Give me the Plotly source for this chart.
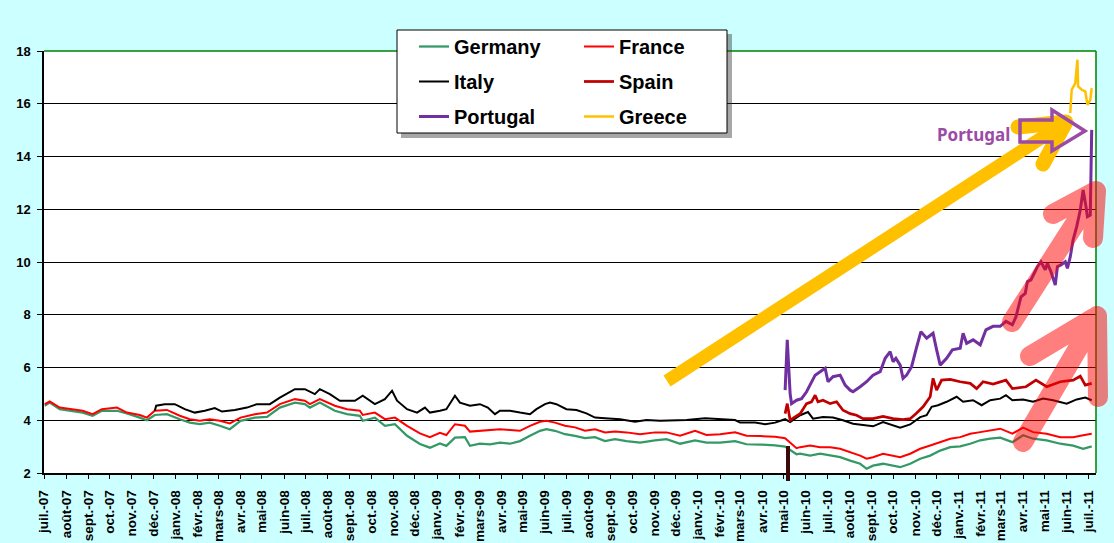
import pandas as pd
import plotly.graph_objects as go

# 10-year government bond yields (%)
core_dates = [
    "2007-07-02", "2007-07-09", "2007-07-23", "2007-08-06", "2007-08-24", "2007-09-07", "2007-09-20",
    "2007-10-11", "2007-10-25", "2007-11-12", "2007-11-22", "2007-12-03", "2007-12-20",
    "2008-01-07", "2008-01-21", "2008-02-04", "2008-02-18", "2008-03-03", "2008-03-17", "2008-04-01",
    "2008-04-21", "2008-05-08", "2008-05-26", "2008-06-16", "2008-06-30", "2008-07-07", "2008-07-21",
    "2008-08-11", "2008-08-28", "2008-09-15", "2008-09-19", "2008-10-06", "2008-10-20", "2008-11-03",
    "2008-11-20", "2008-12-08", "2008-12-22",
    "2009-01-05", "2009-01-14", "2009-01-26", "2009-02-09", "2009-02-16", "2009-03-02", "2009-03-16",
    "2009-03-30", "2009-04-13", "2009-04-27", "2009-05-11", "2009-05-25", "2009-06-03", "2009-06-15",
    "2009-06-29", "2009-07-13", "2009-07-27", "2009-08-10", "2009-08-24", "2009-09-07", "2009-09-23",
    "2009-10-12", "2009-11-02", "2009-11-18", "2009-12-07", "2009-12-28",
    "2010-01-13", "2010-02-01", "2010-02-22", "2010-03-10", "2010-03-29", "2010-04-19", "2010-05-03",
    "2010-05-10", "2010-05-19", "2010-05-24", "2010-06-07", "2010-06-21", "2010-07-05", "2010-07-19",
    "2010-08-02", "2010-08-16", "2010-08-25", "2010-09-03", "2010-09-17", "2010-10-01", "2010-10-11",
    "2010-10-25", "2010-11-08", "2010-11-22", "2010-12-06", "2010-12-20",
    "2011-01-03", "2011-01-17", "2011-01-31", "2011-02-14", "2011-02-28", "2011-03-17", "2011-04-01",
    "2011-04-15", "2011-05-04", "2011-05-23", "2011-06-10", "2011-06-24", "2011-07-06",
]
germany = [
    4.55, 4.67, 4.42, 4.36, 4.29, 4.17, 4.36, 4.36, 4.26, 4.10, 4.00, 4.20, 4.23,
    4.04, 3.91, 3.85, 3.91, 3.79, 3.66, 3.98, 4.10, 4.13, 4.48, 4.67, 4.61, 4.48, 4.67,
    4.36, 4.23, 4.17, 3.98, 4.10, 3.79, 3.85, 3.41, 3.10, 2.96,
    3.12, 3.03, 3.34, 3.36, 3.03, 3.11, 3.09, 3.15, 3.11, 3.21, 3.41, 3.60, 3.66, 3.60,
    3.47, 3.41, 3.32, 3.36, 3.21, 3.28, 3.21, 3.15, 3.24, 3.28, 3.11, 3.24,
    3.15, 3.15, 3.21, 3.09, 3.08, 3.05, 3.00, 2.86, 2.71, 2.73, 2.66, 2.73, 2.66, 2.60,
    2.47, 2.35, 2.16, 2.28, 2.35, 2.28, 2.22, 2.35, 2.54, 2.66, 2.85, 2.98,
    3.01, 3.11, 3.24, 3.30, 3.34, 3.17, 3.43, 3.30, 3.24, 3.11, 3.04, 2.92, 3.01,
]
france = [
    4.61, 4.71, 4.48, 4.42, 4.36, 4.23, 4.42, 4.48, 4.29, 4.20, 4.10, 4.36, 4.39,
    4.17, 4.04, 3.98, 4.04, 3.98, 3.88, 4.10, 4.23, 4.29, 4.61, 4.80, 4.74, 4.61, 4.80,
    4.55, 4.42, 4.36, 4.20, 4.29, 4.04, 4.10, 3.79, 3.50, 3.36,
    3.52, 3.44, 3.85, 3.79, 3.57, 3.60, 3.63, 3.66, 3.63, 3.60, 3.79, 3.94, 3.98, 3.91,
    3.79, 3.73, 3.60, 3.66, 3.54, 3.57, 3.54, 3.47, 3.54, 3.54, 3.41, 3.60,
    3.44, 3.47, 3.54, 3.41, 3.40, 3.37, 3.32, 3.15, 2.94, 2.98, 3.04, 2.98, 2.98, 2.92,
    2.79, 2.66, 2.54, 2.60, 2.73, 2.66, 2.60, 2.73, 2.92, 3.04, 3.17, 3.30,
    3.36, 3.49, 3.55, 3.62, 3.68, 3.49, 3.72, 3.55, 3.49, 3.36, 3.36, 3.43, 3.49,
]

italy_dates = [
    "2007-12-03", "2007-12-05", "2007-12-17", "2007-12-31", "2008-01-14", "2008-01-28", "2008-02-11",
    "2008-02-25", "2008-03-06", "2008-03-24", "2008-04-10", "2008-04-24", "2008-05-12", "2008-05-26",
    "2008-06-16", "2008-06-30", "2008-07-14", "2008-07-21", "2008-08-04", "2008-08-18", "2008-09-08",
    "2008-09-19", "2008-10-06", "2008-10-20", "2008-10-30", "2008-11-06", "2008-11-20", "2008-12-04",
    "2008-12-15", "2008-12-22", "2009-01-05", "2009-01-14", "2009-01-26", "2009-02-02", "2009-02-16",
    "2009-03-02", "2009-03-13", "2009-03-23", "2009-03-30", "2009-04-13", "2009-04-27", "2009-05-11",
    "2009-05-20", "2009-06-01", "2009-06-08", "2009-06-17", "2009-07-01", "2009-07-15", "2009-07-29",
    "2009-08-10", "2009-08-24", "2009-09-14", "2009-10-05", "2009-10-21", "2009-11-09", "2009-11-30",
    "2009-12-16", "2010-01-11", "2010-02-01", "2010-02-22", "2010-03-01", "2010-03-22", "2010-04-05",
    "2010-04-19", "2010-05-03", "2010-05-10", "2010-05-24", "2010-06-04", "2010-06-11", "2010-06-25",
    "2010-07-09", "2010-07-23", "2010-08-06", "2010-08-20", "2010-09-03", "2010-09-17", "2010-10-01",
    "2010-10-11", "2010-10-25", "2010-11-08", "2010-11-17", "2010-11-24", "2010-12-03", "2010-12-15",
    "2010-12-29", "2011-01-07", "2011-01-21", "2011-02-02", "2011-02-14", "2011-02-28", "2011-03-08",
    "2011-03-17", "2011-04-01", "2011-04-15", "2011-04-29", "2011-05-13", "2011-06-01", "2011-06-15",
    "2011-06-27", "2011-07-06",
]
italy = [
    4.36, 4.55, 4.61, 4.61, 4.42, 4.29, 4.36,
    4.46, 4.33, 4.39, 4.48, 4.61, 4.61, 4.86,
    5.18, 5.18, 4.99, 5.18, 4.99, 4.74, 4.74,
    4.93, 4.61, 4.80, 5.12, 4.74, 4.42, 4.29,
    4.48, 4.29, 4.36, 4.42, 4.93, 4.67, 4.55,
    4.61, 4.48, 4.23, 4.36, 4.36, 4.29, 4.23,
    4.42, 4.61, 4.67, 4.61, 4.42, 4.39, 4.26,
    4.10, 4.08, 4.04, 3.94, 4.01, 3.98, 4.01,
    4.01, 4.08, 4.04, 4.01, 3.91, 3.91, 3.85,
    3.91, 4.04, 3.93, 4.19, 4.31, 4.06, 4.12,
    4.10, 4.00, 3.87, 3.81, 3.77, 3.93, 3.81,
    3.72, 3.84, 4.12, 4.19, 4.51, 4.57, 4.70,
    4.89, 4.70, 4.76, 4.57, 4.76, 4.82, 4.95,
    4.76, 4.79, 4.70, 4.82, 4.76, 4.63, 4.79,
    4.86, 4.76,
]

spain_dates = [
    "2010-05-03", "2010-05-06", "2010-05-10", "2010-05-17", "2010-05-24", "2010-06-02", "2010-06-09",
    "2010-06-14", "2010-06-18", "2010-06-25", "2010-07-05", "2010-07-14", "2010-07-23", "2010-08-02",
    "2010-08-11", "2010-08-20", "2010-09-03", "2010-09-17", "2010-10-01", "2010-10-15", "2010-10-25",
    "2010-11-02", "2010-11-12", "2010-11-22", "2010-11-26", "2010-12-01", "2010-12-08", "2010-12-20",
    "2011-01-03", "2011-01-17", "2011-01-26", "2011-02-04", "2011-02-18", "2011-03-08", "2011-03-17",
    "2011-04-05", "2011-04-19", "2011-05-04", "2011-05-23", "2011-06-10", "2011-06-20", "2011-06-27",
    "2011-07-06",
]
spain = [
    4.25, 4.63, 4.00, 4.12, 4.25, 4.63, 4.70,
    4.95, 4.70, 4.76, 4.63, 4.70, 4.38, 4.25,
    4.19, 4.06, 4.06, 4.15, 4.06, 4.02, 4.06,
    4.25, 4.51, 4.89, 5.59, 5.14, 5.52, 5.55,
    5.46, 5.40, 5.20, 5.46, 5.37, 5.52, 5.20,
    5.27, 5.52, 5.27, 5.46, 5.52, 5.67, 5.33,
    5.40,
]

portugal_dates = [
    "2010-05-03", "2010-05-06", "2010-05-10", "2010-05-12", "2010-05-19", "2010-05-26", "2010-06-02",
    "2010-06-07", "2010-06-14", "2010-06-21", "2010-06-28", "2010-07-02", "2010-07-09", "2010-07-19",
    "2010-07-26", "2010-08-02", "2010-08-06", "2010-08-16", "2010-08-25", "2010-09-03", "2010-09-13",
    "2010-09-20", "2010-09-27", "2010-10-01", "2010-10-05", "2010-10-11", "2010-10-15", "2010-10-20",
    "2010-10-27", "2010-11-02", "2010-11-09", "2010-11-17", "2010-11-26", "2010-12-01", "2010-12-06",
    "2010-12-15", "2010-12-23", "2011-01-03", "2011-01-07", "2011-01-12", "2011-01-21", "2011-01-31",
    "2011-02-08", "2011-02-18", "2011-02-28", "2011-03-08", "2011-03-17", "2011-03-22", "2011-03-29",
    "2011-04-04", "2011-04-07", "2011-04-12", "2011-04-18", "2011-04-21", "2011-04-26", "2011-05-02",
    "2011-05-05", "2011-05-10", "2011-05-16", "2011-05-19", "2011-05-24", "2011-05-30", "2011-06-02",
    "2011-06-06", "2011-06-10", "2011-06-15", "2011-06-20", "2011-06-24", "2011-06-28", "2011-06-30",
    "2011-07-04", "2011-07-05", "2011-07-06",
]
portugal = [
    5.14, 7.05, 5.01, 4.63, 4.76, 4.82, 5.08,
    5.33, 5.71, 5.84, 5.97, 5.46, 5.65, 5.71,
    5.33, 5.14, 5.08, 5.27, 5.46, 5.71, 5.84,
    6.35, 6.60, 6.22, 6.35, 6.09, 5.59, 5.71,
    6.03, 6.67, 7.36, 7.11, 7.30, 6.67, 6.09,
    6.35, 6.67, 6.73, 7.30, 6.92, 7.05, 6.86,
    7.43, 7.56, 7.56, 7.75, 7.62, 7.92, 8.68,
    8.81, 9.25, 9.32, 9.70, 9.82, 10.01, 9.70,
    9.95, 9.63, 9.13, 9.82, 9.89, 10.01, 9.76,
    10.20, 10.84, 11.34, 11.97, 12.73, 12.10, 11.72,
    11.78, 14.89, 15.01,
]

greece_dates = [
    "2011-06-06", "2011-06-08", "2011-06-13", "2011-06-16", "2011-06-17",
    "2011-06-22", "2011-06-27", "2011-06-30", "2011-07-04", "2011-07-06",
]
greece = [15.65, 16.53, 16.78, 17.67, 16.66, 16.53, 16.47, 15.96, 16.15, 16.59]

month_abbr = ["janv.", "févr.", "mars", "avr.", "mai", "juin",
              "juil.", "août", "sept.", "oct.", "nov.", "déc."]
y_ticks = [2, 4, 6, 8, 10, 12, 14, 16, 18]

W, H = 1114, 543
L, R, T, B = 44, 18, 51, 70


# pixel position -> paper coordinates (for the drawn-on arrows and boxes)
def px(x):
    return (x - L) / (W - L - R)


def py(y):
    return (H - B - y) / (H - T - B)


def path(*pts):
    out = ""
    for p in pts:
        if p == "M":
            out += "M"
            continue
        sep = "" if out.endswith("M") or out == "" else "L"
        out += f"{sep}{px(p[0]):.5f},{py(p[1]):.5f} "
    return out.strip()


series = [
    ("Germany", core_dates, germany, "#339966", 2.25, "legend"),
    ("France", core_dates, france, "#FF0000", 2, "legend2"),
    ("Italy", italy_dates, italy, "#000000", 2, "legend"),
    ("Spain", spain_dates, spain, "#C00000", 2.75, "legend2"),
    ("Portugal", portugal_dates, portugal, "#7030A0", 3, "legend"),
    ("Greece", greece_dates, greece, "#FFC000", 2.5, "legend2"),
]

fig = go.Figure()
for name, d, v, c, w, lg in series:
    fig.add_trace(go.Scatter(
        x=pd.to_datetime(d), y=v, name=name, mode="lines",
        line=dict(color=c, width=w), legend=lg, legendgroup=name,
    ))

months = pd.date_range("2007-07-01", "2011-07-01", freq="MS")
tick_text = [f"<b>{month_abbr[m.month - 1]}-{m.year % 100:02d}</b>" for m in months]

purple = "rgb(155,75,165)"
shapes = [
    # plot area border (top / right) in green
    dict(type="line", xref="paper", yref="paper", x0=0, x1=1, y0=1, y1=1,
         line=dict(color="#008000", width=1.5), layer="above"),
    dict(type="line", xref="paper", yref="paper", x0=1, x1=1, y0=0, y1=1,
         line=dict(color="#008000", width=1.5), layer="above"),
    # legend box + shadow
    dict(type="rect", xref="paper", yref="paper", x0=px(401), x1=px(732), y0=py(34), y1=py(138),
         fillcolor="rgba(60,60,60,0.45)", line=dict(width=0), layer="above"),
    dict(type="rect", xref="paper", yref="paper", x0=px(397), x1=px(727), y0=py(30), y1=py(133),
         fillcolor="white", line=dict(color="black", width=1), layer="above"),
    # yellow arrow
    dict(type="path", xref="paper", yref="paper", path=path("M", (667, 381), (1066, 122)),
         line=dict(color="#FFC000", width=13), layer="above"),
    dict(type="path", xref="paper", yref="paper", path=path("M", (1018, 127), (1066, 122), (1043, 164)),
         line=dict(color="#FFC000", width=15), layer="above"),
    # hollow purple arrow
    dict(type="path", xref="paper", yref="paper",
         path=path("M", (1020, 120), (1052, 120), (1052, 110), (1085, 131),
                   (1052, 151), (1052, 142), (1020, 142)) + " Z",
         line=dict(color=purple, width=3.5), layer="above"),
    # pink arrows
    dict(type="path", xref="paper", yref="paper",
         path=path("M", (1012, 322), (1096, 191), "M", (1053, 214), (1096, 191), (1093, 238)),
         line=dict(color="rgb(255,0,0)", width=20), opacity=0.5, layer="above"),
    dict(type="path", xref="paper", yref="paper",
         path=path("M", (1023, 442), (1097, 316), "M", (1030, 356), (1097, 316), (1098, 397)),
         line=dict(color="rgb(255,0,0)", width=20), opacity=0.5, layer="above"),
    # dark marker at May 2010
    dict(type="line", xref="paper", yref="paper", x0=px(788), x1=px(788), y0=py(446), y1=py(481),
         line=dict(color="#3C0A0A", width=4), layer="above"),
]

legend_style = dict(
    xanchor="left", yanchor="top", y=py(27), bgcolor="rgba(0,0,0,0)", borderwidth=0,
    font=dict(family="Liberation Sans, Arial", size=20, color="black", weight="bold"),
    tracegroupgap=6,
)

fig.update_layout(
    width=W, height=H,
    margin=dict(l=L, r=R, t=T, b=B, autoexpand=False),
    paper_bgcolor="#CCFFFF", plot_bgcolor="white",
    font=dict(family="Liberation Sans, Arial", color="black"),
    showlegend=True,
    legend=dict(x=px(414), **legend_style),
    legend2=dict(x=px(579), **legend_style),
    shapes=shapes,
    annotations=[dict(
        text="<b>Portugal</b>", x=px(973), y=py(135), xref="paper", yref="paper",
        xanchor="center", yanchor="middle", showarrow=False,
        font=dict(family="Noto Sans", size=17, color=purple),
    )],
    xaxis=dict(
        type="date", range=["2007-07-01", "2011-07-12"],
        tickvals=months, ticktext=tick_text, tickangle=-90,
        ticks="outside", ticklen=4, tickcolor="black",
        showline=True, linecolor="black", linewidth=1.5, showgrid=False,
        tickfont=dict(size=13.5), ticklabelstandoff=6,
    ),
    yaxis=dict(
        range=[2, 18], tickvals=y_ticks, ticktext=[f"<b>{v}</b>" for v in y_ticks],
        showgrid=True, gridcolor="black", gridwidth=1, zeroline=False,
        ticks="outside", ticklen=5, tickcolor="black",
        showline=True, linecolor="black", linewidth=1.5,
        tickfont=dict(size=13), ticklabelstandoff=4,
    ),
)

# no page margin, and round ends on the hand-drawn arrowheads
page_fix = """
document.body.style.margin = '0';
document.querySelectorAll('.shapelayer path').forEach(function(p){
  var w = parseFloat(p.style.strokeWidth || 0);
  if (w >= 15) { p.style.strokeLinecap = 'round'; p.style.strokeLinejoin = 'round'; }
});
"""

fig.write_html("out.html", post_script=page_fix, config={"displayModeBar": False})
